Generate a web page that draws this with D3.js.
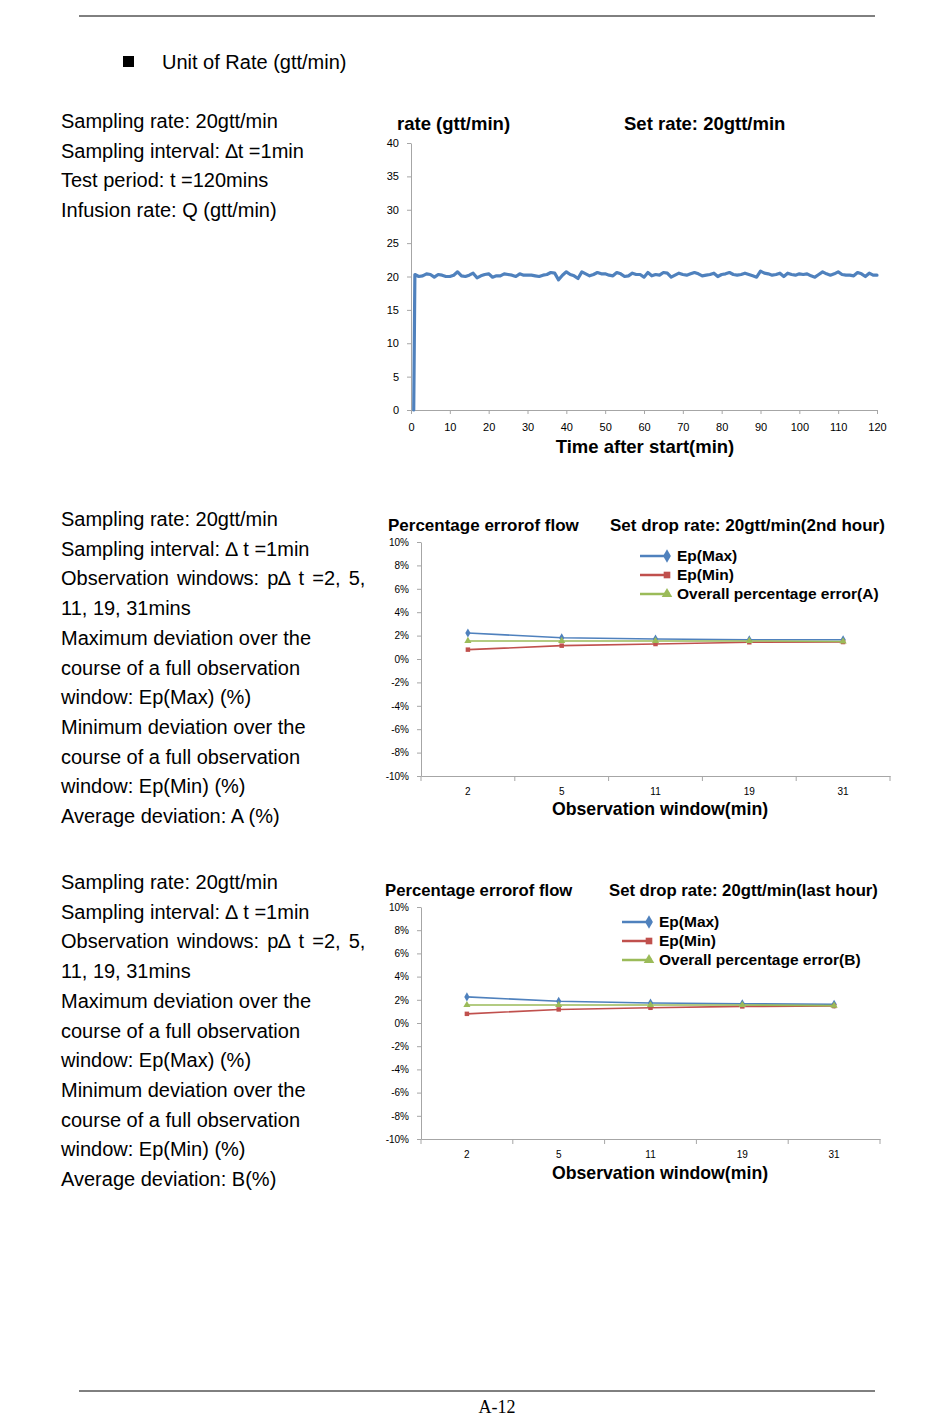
<!DOCTYPE html>
<html>
<head>
<meta charset="utf-8">
<script src="https://cdn.jsdelivr.net/npm/d3@7"></script>
<style>
  body { margin: 0; background: #fff; }
  svg { display: block; }
  .page { font-family: "Liberation Sans", Arial, sans-serif; fill: #000; }
  .tick text { font-family: "Liberation Sans", Arial, sans-serif; fill: #000; }
  .bold { font-weight: bold; }
</style>
</head>
<body>
<div id="chart"></div>
<script>
// rate chart (gtt/min), one point per minute
const rateMinutes = [0.7].concat(d3.range(1, 121))
const rateValues = [
  0,
  20.3, 20.0, 20.1, 20.4, 20.3, 19.9, 20.3, 20.2, 20.0, 20.0,
  20.2, 20.7, 20.1, 20.0, 20.2, 20.5, 19.8, 20.1, 20.3, 20.4,
  19.9, 20.1, 20.1, 20.4, 20.3, 20.2, 20.0, 20.4, 20.2, 20.2,
  20.2, 20.1, 20.0, 20.2, 20.3, 20.6, 20.5, 19.5, 20.2, 20.7,
  20.3, 20.1, 19.7, 20.7, 20.4, 20.1, 20.3, 20.6, 20.4, 20.4,
  20.2, 20.1, 20.6, 20.4, 20.0, 20.1, 20.5, 20.3, 20.3, 19.9,
  20.6, 20.1, 20.3, 20.2, 20.6, 20.5, 19.9, 20.2, 20.5, 20.3,
  20.2, 20.4, 20.6, 20.4, 20.1, 20.2, 20.3, 20.5, 20.0, 20.3,
  20.4, 20.6, 20.3, 20.2, 20.3, 20.5, 20.3, 20.1, 19.9, 20.8,
  20.5, 20.4, 20.2, 20.3, 20.5, 20.0, 20.5, 20.3, 20.2, 20.4,
  20.3, 20.4, 20.1, 19.9, 20.3, 20.7, 20.4, 20.2, 20.4, 20.7,
  20.3, 20.2, 20.2, 20.1, 20.6, 20.4, 20.0, 20.5, 20.2, 20.2
]
const rateYTicks = [0, 5, 10, 15, 20, 25, 30, 35, 40]
const rateXTicks = [0, 10, 20, 30, 40, 50, 60, 70, 80, 90, 100, 110, 120]

// percentage error charts
const windows = ['2', '5', '11', '19', '31']
const pctTicks = [-10, -8, -6, -4, -2, 0, 2, 4, 6, 8, 10]
const epMax2nd = [2.22, 1.82, 1.71, 1.65, 1.65]
const epMin2nd = [0.80, 1.14, 1.28, 1.43, 1.45]
const overallA = [1.54, 1.54, 1.54, 1.54, 1.50]
const epMaxLast = [2.25, 1.87, 1.72, 1.66, 1.61]
const epMinLast = [0.79, 1.17, 1.31, 1.43, 1.46]
const overallB = [1.55, 1.55, 1.55, 1.55, 1.50]

const blue = '#4F81BD', red = '#C0504D', green = '#9BBB59', axisGray = '#A6A6A6'

const svg = d3.select('#chart').append('svg')
    .attr('width', 950)
    .attr('height', 1419)
    .attr('class', 'page')

svg.append('rect').attr('width', 950).attr('height', 1419).attr('fill', '#fff')

// page rules and footer
svg.append('line').attr('x1', 79).attr('x2', 875).attr('y1', 16).attr('y2', 16)
    .attr('stroke', '#000').attr('stroke-width', 1)
svg.append('line').attr('x1', 79).attr('x2', 875).attr('y1', 1391).attr('y2', 1391)
    .attr('stroke', '#000').attr('stroke-width', 1)
svg.append('text').attr('x', 497).attr('y', 1413).attr('text-anchor', 'middle')
    .style('font-family', '"Liberation Serif", "Times New Roman", serif')
    .style('font-size', '18px')
    .text('A-12')

// heading
svg.append('rect').attr('x', 123).attr('y', 56).attr('width', 11).attr('height', 11).attr('fill', '#000')
svg.append('text').attr('x', 162).attr('y', 69).style('font-size', '20px').text('Unit of Rate (gtt/min)')

// left side descriptions
const block1 = [
  'Sampling rate: 20gtt/min',
  'Sampling interval: \u2206t =1min',
  'Test period: t =120mins',
  'Infusion rate: Q (gtt/min)'
]
const blockWindows = (last) => [
  'Sampling rate: 20gtt/min',
  'Sampling interval: \u2206 t =1min',
  'Observation windows: p\u2206 t =2, 5,',
  '11, 19, 31mins',
  'Maximum deviation over the',
  'course of a full observation',
  'window: Ep(Max) (%)',
  'Minimum deviation over the',
  'course of a full observation',
  'window: Ep(Min) (%)',
  last
]

function drawBlock(lines, top) {
  svg.append('g').selectAll('text')
    .data(lines)
    .enter().append('text')
      .attr('x', 61)
      .attr('y', (d, i) => top + i * 29.7)
      .style('font-size', '20px')
      .style('word-spacing', d => d.startsWith('Observation') ? '2.5px' : null)
      .text(d => d)
}
drawBlock(block1, 128)
drawBlock(blockWindows('Average deviation: A (%)'), 526)
drawBlock(blockWindows('Average deviation: B(%)'), 889)

// ---------- rate chart ----------
function drawRateChart() {
  const x = d3.scaleLinear().domain([0, 120]).range([411, 877])
  const y = d3.scaleLinear().domain([0, 40]).range([410, 143])

  const xAxis = d3.axisBottom(x).tickValues(rateXTicks).tickSize(4).tickPadding(9).tickSizeOuter(0)
  const yAxis = d3.axisLeft(y).tickValues(rateYTicks).tickSize(4).tickPadding(8).tickSizeOuter(0)

  const gx = svg.append('g').attr('transform', 'translate(0,' + y(0) + ')').call(xAxis)
  const gy = svg.append('g').attr('transform', 'translate(' + x(0) + ',0)').call(yAxis)
  for (const g of [gx, gy]) {
    g.selectAll('path, line').attr('stroke', axisGray)
    g.selectAll('text').style('font-size', '11px')
  }

  const line = d3.line()
      .x((d, i) => x(rateMinutes[i]))
      .y(d => y(d))

  svg.append('path')
      .datum(rateValues)
      .attr('d', line)
      .attr('fill', 'none')
      .attr('stroke', blue)
      .attr('stroke-width', 3.2)
      .attr('stroke-linejoin', 'round')
      .attr('stroke-linecap', 'round')

  svg.append('text').attr('class', 'bold').attr('x', 397).attr('y', 130)
      .style('font-size', '18.5px').text('rate (gtt/min)')
  svg.append('text').attr('class', 'bold').attr('x', 624).attr('y', 130)
      .style('font-size', '18.5px').text('Set rate: 20gtt/min')
  svg.append('text').attr('class', 'bold').attr('x', 645).attr('y', 453)
      .attr('text-anchor', 'middle')
      .style('font-size', '18.5px').text('Time after start(min)')
}
drawRateChart()

// ---------- percentage error charts ----------
const diamond = d3.symbol().type(d3.symbolDiamond)
const square = d3.symbol().type(d3.symbolSquare)
const triangle = d3.symbol().type(d3.symbolTriangle)

function drawErrorChart(cfg) {
  const { left, right, top, bottom, series, title, titleX, subtitle, subtitleX, titleSize,
          legendX, legendY, axisTitleX, axisTitleY } = cfg
  const x = d3.scaleBand().domain(windows).range([left, right])
  const y = d3.scaleLinear().domain([-10, 10]).range([bottom, top])

  const yAxis = d3.axisLeft(y).tickValues(pctTicks).tickFormat(d => d + '%')
      .tickSize(4).tickPadding(8).tickSizeOuter(0)
  const gy = svg.append('g').attr('transform', 'translate(' + left + ',0)').call(yAxis)

  const xAxis = d3.axisBottom(x).tickSize(0).tickPadding(12).tickSizeOuter(0)
  const gx = svg.append('g').attr('transform', 'translate(0,' + bottom + ')').call(xAxis)

  // category boundary ticks
  gx.selectAll('.bound')
    .data(windows.map(w => x(w)).concat([x.range()[1]]))
    .enter().append('line')
      .attr('class', 'bound')
      .attr('x1', d => d).attr('x2', d => d)
      .attr('y1', 0).attr('y2', 5)

  for (const g of [gx, gy]) {
    g.selectAll('path, line').attr('stroke', axisGray)
    g.selectAll('text').style('font-size', '10px')
  }

  const line = d3.line()
      .x((d, i) => x(windows[i]) + x.bandwidth() / 2)
      .y(d => y(d))

  series.forEach(s => {
    const g = svg.append('g')
    g.append('path')
        .datum(s.values)
        .attr('d', line)
        .attr('fill', 'none')
        .attr('stroke', s.color)
        .attr('stroke-width', 1.6)
    g.selectAll('path.marker')
      .data(s.values)
      .enter().append('path')
        .attr('class', 'marker')
        .attr('d', s.symbol.size(s.size)())
        .attr('fill', s.color)
        .attr('transform', (d, i) => 'translate(' + (x(windows[i]) + x.bandwidth() / 2) + ',' + y(d) + ')')
  })

  // legend
  const legend = svg.append('g')
  series.forEach((s, i) => {
    const ly = legendY + i * 19
    legend.append('line')
        .attr('x1', legendX).attr('x2', legendX + 30)
        .attr('y1', ly).attr('y2', ly)
        .attr('stroke', s.color).attr('stroke-width', 2.5)
    legend.append('path')
        .attr('d', s.symbol.size(s.size * 2.2)())
        .attr('fill', s.color)
        .attr('transform', 'translate(' + (legendX + 27) + ',' + ly + ')')
    legend.append('text').attr('class', 'bold')
        .attr('x', legendX + 37).attr('y', ly + 5)
        .style('font-size', '15.5px')
        .text(s.name)
  })

  svg.append('text').attr('class', 'bold').attr('x', titleX).attr('y', top - 11)
      .style('font-size', titleSize).text(title)
  svg.append('text').attr('class', 'bold').attr('x', subtitleX).attr('y', top - 11)
      .style('font-size', titleSize).text(subtitle)
  svg.append('text').attr('class', 'bold').attr('x', axisTitleX).attr('y', axisTitleY)
      .attr('text-anchor', 'middle')
      .style('font-size', '17.7px').text('Observation window(min)')
}

drawErrorChart({
  left: 421, right: 890, top: 542, bottom: 776,
  title: 'Percentage errorof flow', titleX: 388,
  subtitle: 'Set drop rate: 20gtt/min(2nd hour)', subtitleX: 610, titleSize: '17px',
  legendX: 640, legendY: 556, axisTitleX: 660, axisTitleY: 815,
  series: [
    { name: 'Ep(Max)', values: epMax2nd, color: blue, symbol: diamond, size: 24 },
    { name: 'Ep(Min)', values: epMin2nd, color: red, symbol: square, size: 20 },
    { name: 'Overall percentage error(A)', values: overallA, color: green, symbol: triangle, size: 22 }
  ]
})

drawErrorChart({
  left: 421, right: 880, top: 907, bottom: 1139,
  title: 'Percentage errorof flow', titleX: 385,
  subtitle: 'Set drop rate: 20gtt/min(last hour)', subtitleX: 609, titleSize: '16.7px',
  legendX: 622, legendY: 922, axisTitleX: 660, axisTitleY: 1179,
  series: [
    { name: 'Ep(Max)', values: epMaxLast, color: blue, symbol: diamond, size: 24 },
    { name: 'Ep(Min)', values: epMinLast, color: red, symbol: square, size: 20 },
    { name: 'Overall percentage error(B)', values: overallB, color: green, symbol: triangle, size: 22 }
  ]
})
</script>
</body>
</html>
